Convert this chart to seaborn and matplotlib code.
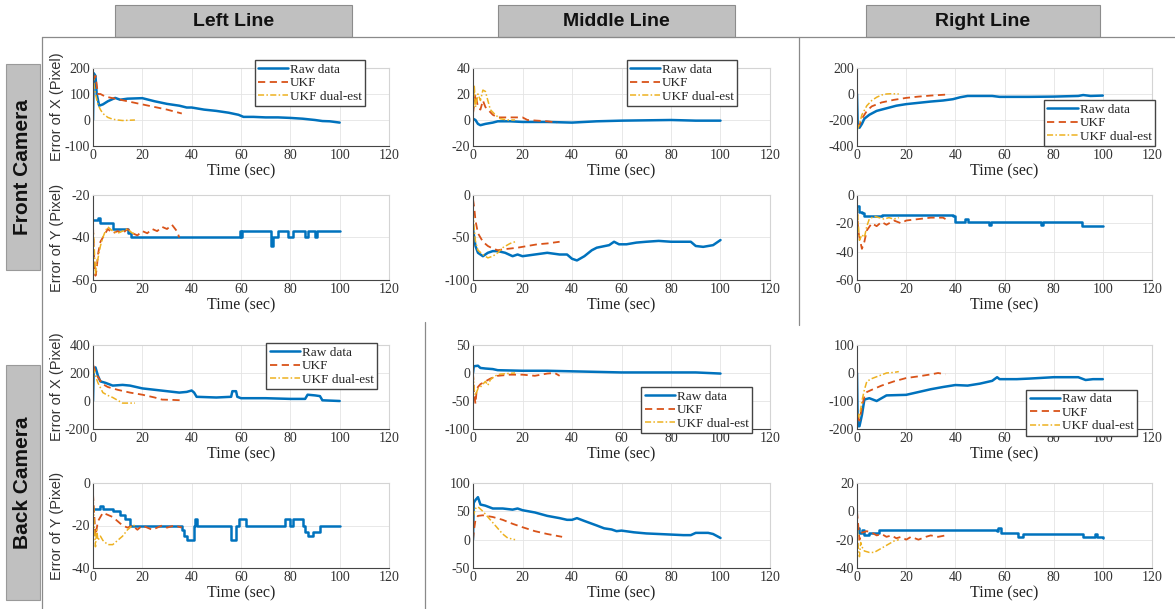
import seaborn as sns
import matplotlib.pyplot as plt
from matplotlib.patches import Rectangle
from matplotlib.lines import Line2D

W, H = 1175, 609

# ---------------- data (time in sec, error in pixel) ----------------
# Front camera, left line, X
FLX_RAW_T = [0, 0.3, 1, 1.5, 2.5, 4, 6, 9, 11, 14, 20, 25, 30, 35, 38, 40, 45, 50, 55, 59, 61, 65, 70, 75, 80, 85, 90, 93, 96, 100]
FLX_RAW = [0, 180, 170, 100, 55, 60, 72, 85, 78, 82, 84, 72, 62, 55, 48, 48, 40, 35, 28, 20, 12, 12, 10, 10, 8, 5, 0, -4, -5, -10]
FLX_UKF_T = [0, 1, 2, 3, 5, 10, 14, 20, 25, 30, 36]
FLX_UKF = [150, 170, 100, 100, 90, 80, 72, 60, 50, 40, 25]
FLX_DUAL_T = [0, 0.5, 1, 2, 3, 4, 6, 8, 10, 12, 17]
FLX_DUAL = [190, 130, 100, 60, 40, 25, 10, 3, 0, -2, 0]

# Front camera, middle line, X
FMX_RAW_T = [0, 1, 2, 3, 5, 8, 10, 15, 20, 30, 40, 50, 60, 80, 90, 100]
FMX_RAW = [1, 0, -3, -4, -3, -2, -1, -1, -1.5, -1.5, -2, -1, -0.5, 0, -0.5, -0.5]
FMX_UKF_T = [0, 1, 2, 3, 4, 5, 6, 8, 10, 15, 20, 22, 30, 34]
FMX_UKF = [5, 20, 10, 8, 15, 10, 8, 4, 2, 2, 2, 0, -1, -2]
FMX_DUAL_T = [0, 0.5, 1, 2, 3, 4, 5, 6, 7, 9, 11, 14, 17]
FMX_DUAL = [0, 27, 10, 20, 15, 23, 22, 15, 8, 4, 1, 0, 0]

# Front camera, right line, X
FRX_RAW_T = [0, 0.3, 1, 2, 3, 5, 8, 12, 16, 20, 25, 30, 35, 39, 42, 45, 55, 58, 70, 80, 90, 92, 95, 100]
FRX_RAW = [0, -250, -260, -230, -190, -160, -130, -110, -90, -78, -68, -58, -50, -40, -25, -15, -15, -22, -22, -20, -15, -8, -15, -12]
FRX_UKF_T = [0, 1, 2, 4, 6, 8, 10, 15, 20, 25, 30, 36]
FRX_UKF = [-260, -240, -190, -130, -95, -80, -65, -45, -30, -20, -12, -5]
FRX_DUAL_T = [0, 1, 2, 4, 6, 8, 10, 12, 14, 17]
FRX_DUAL = [-280, -230, -160, -90, -50, -25, -8, 0, 2, 0]

# Front camera, left line, Y
FLY_RAW_T = [0, 2, 3, 8, 14, 15.5, 59.5, 60, 60.5, 72, 73, 75, 79, 81, 86, 87, 90, 91, 100]
FLY_RAW = [-32, -31, -33, -36, -38, -40, -37, -40, -37, -44, -40, -37, -40, -37, -40, -37, -40, -37, -37]
FLY_UKF_T = [0, 0.5, 1, 1.5, 2, 3, 4, 6, 8, 10, 12, 14, 16, 18, 20, 22, 24, 26, 28, 30, 32, 34, 35]
FLY_UKF = [-35, -50, -58, -55, -48, -42, -40, -36, -38, -37, -38, -36, -38, -39, -37, -38, -36, -37, -35, -36, -34, -37, -40]
FLY_DUAL_T = [0, 0.5, 1, 1.5, 2, 3, 4, 5, 6, 8, 10, 12, 14, 16, 17]
FLY_DUAL = [-34, -45, -57, -52, -50, -44, -40, -37, -35, -37, -38, -37, -36, -38, -38]

# Front camera, middle line, Y
FMY_RAW_T = [0, 0.5, 1, 2, 4, 6, 8, 10, 13, 16, 18, 20, 25, 30, 35, 38, 40, 42, 45, 48, 50, 55, 57, 59, 62, 66, 70, 75, 80, 88, 90, 93, 97, 100]
FMY_RAW = [-40, -50, -60, -68, -72, -68, -66, -66, -68, -72, -70, -72, -70, -68, -70, -70, -75, -77, -72, -65, -62, -59, -55, -58, -58, -56, -55, -54, -55, -55, -60, -61, -59, -53]
FMY_UKF_T = [0, 0.5, 1, 2, 4, 6, 8, 10, 12, 15, 18, 22, 26, 30, 35]
FMY_UKF = [-5, -15, -30, -45, -55, -60, -63, -65, -64, -63, -62, -60, -58, -57, -55]
FMY_DUAL_T = [0, 0.5, 1, 2, 4, 6, 8, 10, 12, 15, 17]
FMY_DUAL = [-20, -40, -55, -65, -70, -74, -72, -68, -62, -57, -55]

# Front camera, right line, Y
FRY_RAW_T = [0, 1, 2, 3, 10, 39, 40, 44, 44.5, 45, 53.5, 54, 54.5, 75, 75.3, 75.6, 91, 91.5, 100]
FRY_RAW = [-8, -12, -13, -15, -14, -15, -19, -17, -17, -19, -21, -21, -19, -21, -21, -19, -19, -22, -22]
FRY_UKF_T = [0, 0.5, 1, 2, 3, 4, 6, 8, 10, 12, 15, 18, 20, 25, 30, 35, 36]
FRY_UKF = [-10, -25, -30, -38, -33, -25, -20, -22, -19, -21, -18, -20, -18, -17, -16, -16, -17]
FRY_DUAL_T = [0, 0.5, 1, 2, 3, 4, 5, 7, 9, 11, 13, 15, 17]
FRY_DUAL = [-5, -20, -32, -28, -30, -22, -17, -15, -16, -17, -16, -17, -16]

# Back camera, left line, X
BLX_RAW_T = [0, 0.3, 1, 2, 3, 5, 8, 12, 15, 20, 25, 30, 35, 38, 40, 41, 42, 50, 56, 56.5, 58, 58.5, 60, 70, 80, 86, 87, 90, 92, 93, 100]
BLX_RAW = [0, 230, 240, 180, 140, 130, 110, 115, 110, 90, 80, 70, 60, 65, 75, 60, 30, 25, 30, 70, 70, 30, 20, 20, 15, 15, 45, 40, 35, 5, 0]
BLX_UKF_T = [0, 1, 2, 4, 6, 10, 15, 20, 25, 28, 32, 36]
BLX_UKF = [260, 210, 170, 120, 100, 80, 60, 45, 25, 10, 8, 5]
BLX_DUAL_T = [0, 1, 2, 4, 6, 8, 10, 12, 17]
BLX_DUAL = [240, 180, 130, 60, 40, 25, 5, -15, -15]

# Back camera, middle line, X
BMX_RAW_T = [0, 0.3, 2, 3, 5, 8, 10, 20, 30, 40, 50, 60, 80, 90, 100]
BMX_RAW = [0, 12, 13, 9, 8, 7, 5, 4, 4, 3, 2, 1, 1, 1, -1]
BMX_UKF_T = [0, 0.5, 1, 1.5, 2, 3, 5, 7, 10, 15, 20, 25, 30, 33, 35]
BMX_UKF = [0, -40, -55, -30, -25, -20, -15, -10, -5, -3, -3, -5, -1, 0, -5]
BMX_DUAL_T = [0, 0.5, 1, 2, 3, 4, 5, 6, 7, 9, 11, 14, 17]
BMX_DUAL = [0, -30, -40, -28, -25, -20, -15, -22, -12, -5, -2, -1, 0]

# Back camera, right line, X
BRX_RAW_T = [0, 0.3, 1, 2, 3, 5, 8, 10, 12, 20, 25, 30, 35, 40, 45, 50, 55, 57, 58, 65, 70, 80, 90, 93, 96, 100]
BRX_RAW = [0, -190, -190, -150, -95, -90, -100, -90, -80, -78, -68, -58, -50, -43, -45, -38, -28, -15, -22, -22, -20, -15, -15, -25, -22, -22]
BRX_UKF_T = [0, 1, 2, 3, 4, 6, 10, 15, 20, 25, 30, 33, 36]
BRX_UKF = [-150, -170, -120, -85, -68, -60, -45, -30, -18, -12, -5, 0, -5]
BRX_DUAL_T = [0, 1, 2, 3, 4, 6, 9, 12, 15, 17]
BRX_DUAL = [-140, -160, -100, -60, -30, -20, -10, 0, 2, 5]

# Back camera, left line, Y
BLY_RAW_T = [0, 3, 4, 8, 11, 13, 15, 36, 37, 38, 41, 41.5, 42, 56, 58, 59, 62, 78, 80, 81, 85, 86, 87, 89, 92, 100]
BLY_RAW = [-12, -11, -12, -13, -15, -17, -20, -22, -25, -27, -20, -17, -20, -27, -20, -17, -20, -17, -20, -17, -20, -23, -25, -23, -20, -20]
BLY_UKF_T = [0, 0.5, 1, 2, 4, 6, 8, 10, 12, 14, 16, 18, 20, 24, 28, 30, 33, 36]
BLY_UKF = [-5, -15, -25, -18, -14, -15, -16, -18, -20, -21, -20, -22, -20, -22, -20, -21, -20, -21]
BLY_DUAL_T = [0, 0.5, 1, 1.5, 2, 3, 4, 6, 8, 10, 12, 14, 16, 17]
BLY_DUAL = [-5, -20, -30, -22, -27, -25, -27, -29, -29, -27, -25, -22, -20, -20]

# Back camera, middle line, Y
BMY_RAW_T = [0, 0.3, 1, 2, 3, 5, 8, 12, 16, 18, 20, 25, 30, 35, 38, 40, 42, 45, 50, 53, 56, 58, 60, 65, 70, 75, 80, 85, 88, 90, 95, 97, 100]
BMY_RAW = [0, 65, 70, 75, 62, 60, 55, 55, 53, 55, 52, 48, 42, 38, 35, 35, 38, 33, 25, 20, 18, 15, 16, 13, 11, 10, 9, 8, 8, 12, 12, 10, 3]
BMY_UKF_T = [0, 0.5, 1, 2, 4, 8, 12, 16, 20, 25, 30, 36]
BMY_UKF = [0, 20, 35, 42, 43, 40, 35, 28, 22, 15, 10, 5]
BMY_DUAL_T = [0, 1, 2, 4, 6, 8, 10, 12, 14, 17]
BMY_DUAL = [40, 55, 58, 50, 40, 30, 20, 10, 3, 0]

# Back camera, right line, Y
BRY_RAW_T = [0, 1, 2, 3, 5, 9, 57, 57.5, 58.5, 65, 65.5, 67, 67.5, 92, 97, 97.3, 97.6, 100]
BRY_RAW = [-12, -15, -13, -17, -15, -13, -14, -12, -15, -15, -18, -18, -16, -18, -16, -16, -18, -19]
BRY_UKF_T = [0, 0.5, 1, 2, 4, 6, 8, 10, 12, 14, 16, 18, 20, 22, 25, 28, 30, 33, 36]
BRY_UKF = [0, -10, -20, -15, -14, -15, -17, -16, -18, -17, -19, -18, -20, -18, -20, -18, -17, -18, -17]
BRY_DUAL_T = [0, 0.5, 1, 1.5, 2, 3, 5, 7, 9, 11, 13, 15, 17]
BRY_DUAL = [-5, -25, -32, -22, -25, -28, -29, -29, -27, -25, -23, -21, -20]

COL_HEADERS = ["Left Line", "Middle Line", "Right Line"]
ROW_HEADERS = ["Front Camera", "Back Camera"]

C_RAW, C_UKF, C_DUAL = '#0072BD', '#D95319', '#EDB120'
SERIF = ['Liberation Serif', 'DejaVu Serif']
SANS = ['Liberation Sans', 'DejaVu Sans']

sns.set_style("white")
plt.rcParams['font.family'] = SERIF
plt.rcParams['axes.unicode_minus'] = False

fig = plt.figure(figsize=(W / 100, H / 100), dpi=100)


def fx(px):
    return px / W


def fy(py):
    return 1 - py / H


# axes boxes in pixel space
COL_X = [(93, 389), (473, 770), (857, 1152)]
ROW_Y = [(68, 146), (195, 280), (345, 429), (483, 568)]


def panel(r, c, raw, ukf, dual, ylim, yticks, step=False, ylabel=None, leg=None):
    x0, x1 = COL_X[c]
    y0, y1 = ROW_Y[r]
    ax = fig.add_axes([fx(x0), fy(y1), fx(x1) - fx(x0), fy(y0) - fy(y1)])
    sns.lineplot(x=raw[0], y=raw[1], ax=ax, color=C_RAW, lw=1.8, label='Raw data',
                 estimator=None, sort=False, drawstyle='steps-post' if step else 'default')
    sns.lineplot(x=ukf[0], y=ukf[1], ax=ax, color=C_UKF, lw=1.3, linestyle=(0, (4, 2.5)),
                 label='UKF', estimator=None, sort=False)
    sns.lineplot(x=dual[0], y=dual[1], ax=ax, color=C_DUAL, lw=1.1, linestyle=(0, (4, 1.5, 1, 1.5)),
                 label='UKF dual-est', estimator=None, sort=False)
    ax.set_xlim(0, 120)
    ax.set_xticks(range(0, 121, 20))
    ax.set_ylim(*ylim)
    ax.set_yticks(yticks)
    ax.grid(True, color='#e4e4e4', lw=0.6)
    ax.set_axisbelow(True)
    for s in ['left', 'bottom']:
        ax.spines[s].set_color('#454545')
        ax.spines[s].set_linewidth(0.8)
    for s in ['top', 'right']:
        ax.spines[s].set_color('#d4d4d4')
        ax.spines[s].set_linewidth(0.8)
    ax.tick_params(direction='in', length=3, labelsize=10, colors='#333333', pad=2)
    ax.set_xlabel('Time (sec)', fontsize=11.5, color='#222222', labelpad=1)
    if ylabel:
        ax.set_ylabel(ylabel, family=SANS, fontsize=10.5, color='#333333')
        ax.yaxis.set_label_coords(-(x0 - 64) / (x1 - x0), 0.5)
    else:
        ax.set_ylabel('')
    if leg is None:
        ax.get_legend().remove()
    else:
        ax.legend(loc=leg[0], bbox_to_anchor=leg[1], fontsize=9.5, frameon=True, fancybox=False,
                  edgecolor='#444444', framealpha=1, handlelength=2.3, handletextpad=0.15,
                  borderpad=0.25, labelspacing=0.1, borderaxespad=0)
    return ax


panel(0, 0, (FLX_RAW_T, FLX_RAW), (FLX_UKF_T, FLX_UKF), (FLX_DUAL_T, FLX_DUAL),
      (-100, 200), [-100, 0, 100, 200], ylabel='Error of X (Pixel)', leg=('upper right', (0.92, 1.1)))
panel(0, 1, (FMX_RAW_T, FMX_RAW), (FMX_UKF_T, FMX_UKF), (FMX_DUAL_T, FMX_DUAL),
      (-20, 40), [-20, 0, 20, 40], leg=('upper right', (0.89, 1.1)))
panel(0, 2, (FRX_RAW_T, FRX_RAW), (FRX_UKF_T, FRX_UKF), (FRX_DUAL_T, FRX_DUAL),
      (-400, 200), [-400, -200, 0, 200], leg=('lower right', (1.01, 0.0)))
panel(1, 0, (FLY_RAW_T, FLY_RAW), (FLY_UKF_T, FLY_UKF), (FLY_DUAL_T, FLY_DUAL),
      (-60, -20), [-60, -40, -20], step=True, ylabel='Error of Y (Pixel)')
panel(1, 1, (FMY_RAW_T, FMY_RAW), (FMY_UKF_T, FMY_UKF), (FMY_DUAL_T, FMY_DUAL),
      (-100, 0), [-100, -50, 0])
panel(1, 2, (FRY_RAW_T, FRY_RAW), (FRY_UKF_T, FRY_UKF), (FRY_DUAL_T, FRY_DUAL),
      (-60, 0), [-60, -40, -20, 0], step=True)
panel(2, 0, (BLX_RAW_T, BLX_RAW), (BLX_UKF_T, BLX_UKF), (BLX_DUAL_T, BLX_DUAL),
      (-200, 400), [-200, 0, 200, 400], ylabel='Error of X (Pixel)', leg=('upper right', (0.96, 1.02)))
panel(2, 1, (BMX_RAW_T, BMX_RAW), (BMX_UKF_T, BMX_UKF), (BMX_DUAL_T, BMX_DUAL),
      (-100, 50), [-100, -50, 0, 50], leg=('lower right', (0.94, -0.05)))
panel(2, 2, (BRX_RAW_T, BRX_RAW), (BRX_UKF_T, BRX_UKF), (BRX_DUAL_T, BRX_DUAL),
      (-200, 100), [-200, -100, 0, 100], leg=('lower right', (0.95, -0.08)))
panel(3, 0, (BLY_RAW_T, BLY_RAW), (BLY_UKF_T, BLY_UKF), (BLY_DUAL_T, BLY_DUAL),
      (-40, 0), [-40, -20, 0], step=True, ylabel='Error of Y (Pixel)')
panel(3, 1, (BMY_RAW_T, BMY_RAW), (BMY_UKF_T, BMY_UKF), (BMY_DUAL_T, BMY_DUAL),
      (-50, 100), [-50, 0, 50, 100])
panel(3, 2, (BRY_RAW_T, BRY_RAW), (BRY_UKF_T, BRY_UKF), (BRY_DUAL_T, BRY_DUAL),
      (-40, 20), [-40, -20, 0, 20], step=True)

# frame lines from the pasted panels
frame = dict(color='#8a8a8a', lw=0.9, transform=fig.transFigure)
fig.add_artist(Line2D([fx(42), 1], [fy(37), fy(37)], **frame))
fig.add_artist(Line2D([fx(42), fx(42)], [fy(37), 0], **frame))
fig.add_artist(Line2D([fx(799), fx(799)], [fy(37), fy(325)], **frame))
fig.add_artist(Line2D([fx(425), fx(425)], [fy(322), 0], **frame))

# column headers
for (hx0, hx1), text in zip([(115, 352), (498, 735), (866, 1100)], COL_HEADERS):
    fig.add_artist(Rectangle((fx(hx0), fy(37)), fx(hx1) - fx(hx0), fy(5) - fy(37),
                             transform=fig.transFigure, facecolor='#c0c0c0', edgecolor='#8c8c8c', lw=0.8))
    fig.text(fx((hx0 + hx1) / 2), fy(21), text, family=SANS, weight='bold', fontsize=14,
             ha='center', va='center', color='#111111')

# row headers
for (ry0, ry1), text in zip([(64, 270), (365, 600)], ROW_HEADERS):
    fig.add_artist(Rectangle((fx(6), fy(ry1)), fx(40) - fx(6), fy(ry0) - fy(ry1),
                             transform=fig.transFigure, facecolor='#c0c0c0', edgecolor='#9a9a9a', lw=0.8))
    fig.text(fx(23), fy((ry0 + ry1) / 2), text, family=SANS, weight='bold', fontsize=15,
             ha='center', va='center', rotation=90, color='#111111')

fig.savefig('out.png', dpi=100)
